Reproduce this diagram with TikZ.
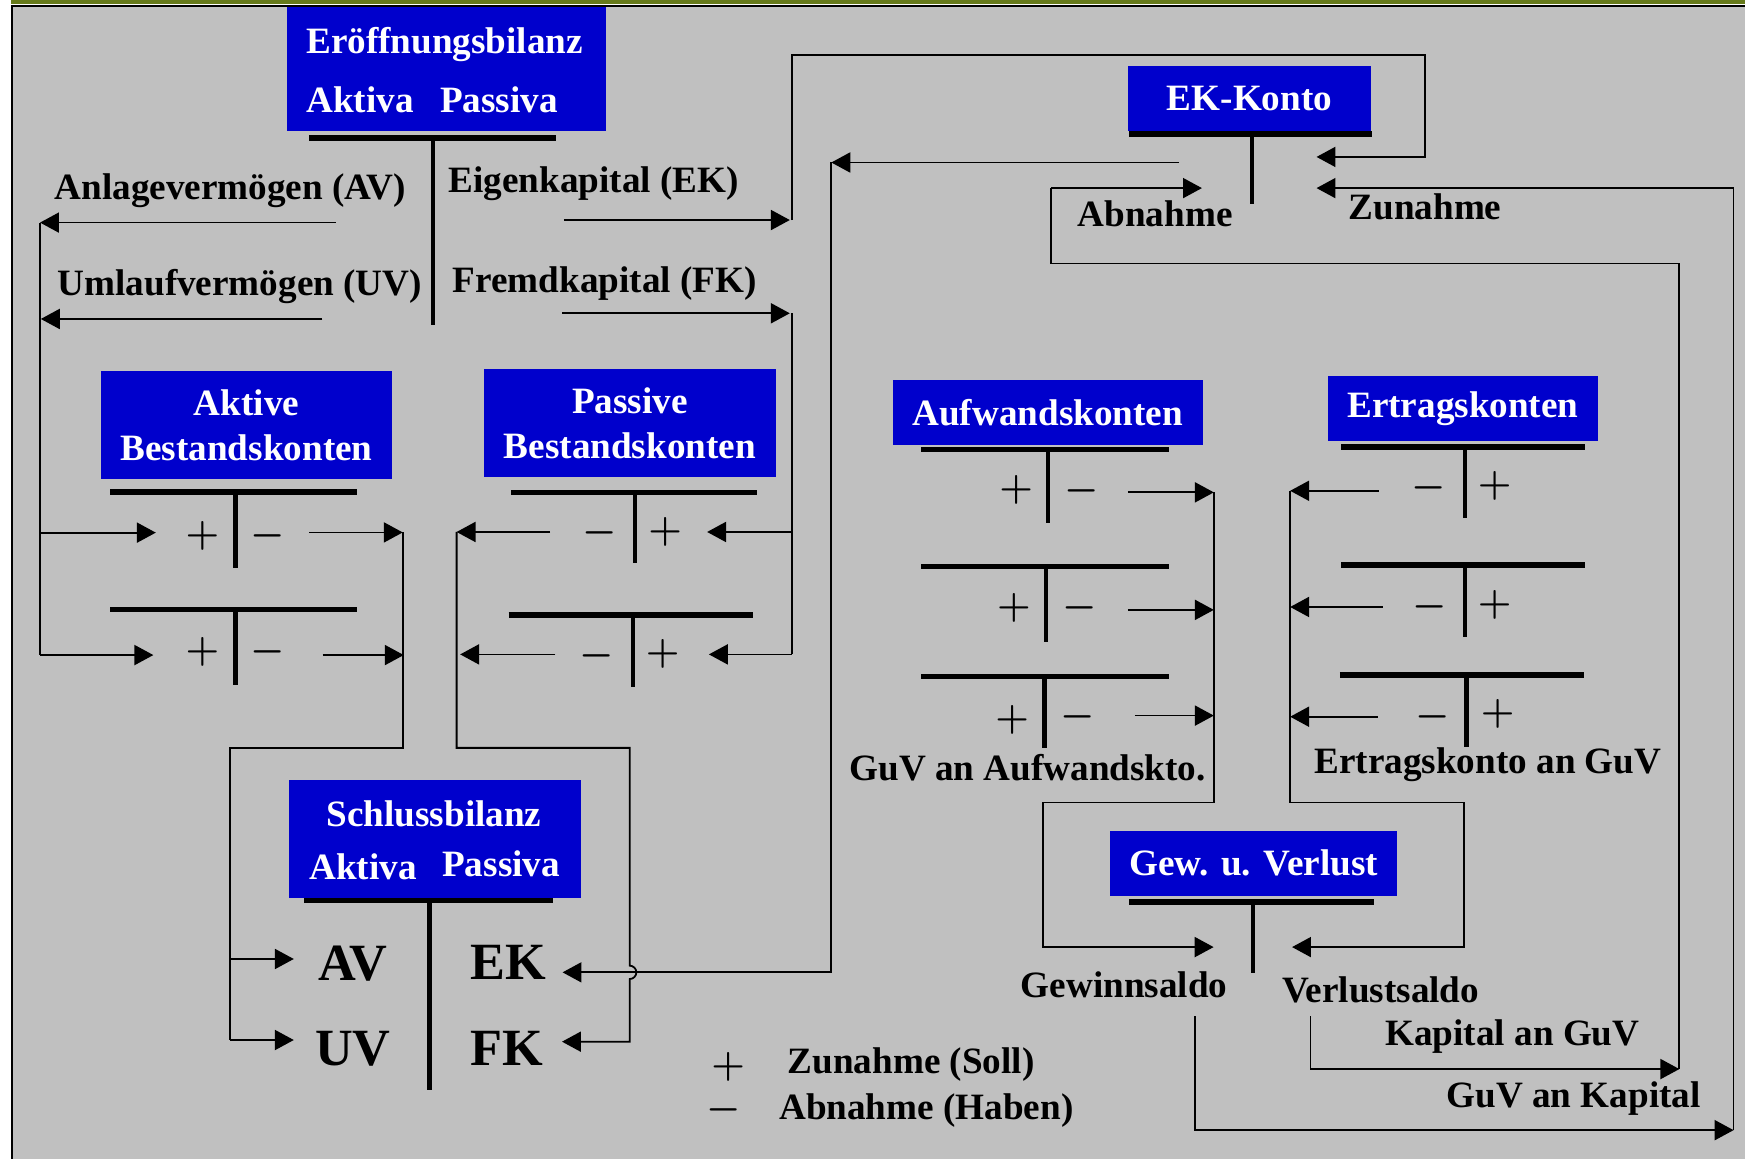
\documentclass[tikz,border=0pt]{standalone}
\usepackage{fontspec}
\setmainfont{Liberation Serif}
\usetikzlibrary{arrows.meta}

\definecolor{kblau}{RGB}{0,0,204}
\definecolor{hgrau}{RGB}{192,192,192}
\definecolor{oliv}{RGB}{102,122,26}

\tikzset{
  kasten/.style={fill=kblau, text=white, inner sep=0pt, align=center,
    font=\bfseries\fontsize{16.7}{20}\selectfont},
  beschr/.style={inner sep=0pt, font=\bfseries\fontsize{16.7}{20}\selectfont},
  weiss/.style={beschr, text=white},
  gross/.style={inner sep=0pt, font=\bfseries\fontsize{23.5}{26}\selectfont},
  zeichen/.style={inner sep=0pt, font=\boldmath\fontsize{16.5}{16.5}\selectfont},
  legzeichen/.style={inner sep=0pt, font=\boldmath\fontsize{16.5}{16.5}\selectfont},
  balken/.style={line width=2.4pt},
  stiel/.style={line width=2pt},
  linie/.style={line width=0.8pt},
  pfeil/.style={linie, -{Triangle[length=8.5pt,width=9pt]}}
}

\begin{document}
\begin{tikzpicture}[x=0.5pt, y=-0.5pt]
\useasboundingbox (0,0) rectangle (1568,1041);

% Hintergrund und Rahmen
\fill[white] (0,0) rectangle (1568,1041);
\fill[hgrau] (10,5) rectangle (1568,1041);
\fill[oliv] (10,0) rectangle (1568,3.6);
\draw[line width=1pt] (10.7,1041) -- (10.7,5.4) -- (1568,5.4);

% Eroeffnungsbilanz
\node[kasten, minimum width=143.5pt, minimum height=56pt] (eb) at (401,62) {};
\node[weiss] (ebtitel) at (399.5,40) {Eröffnungsbilanz};
\node[weiss, anchor=west] (ebakt) at (275,90) {Aktiva};
\node[weiss, anchor=west] (ebpas) at (395,90) {Passiva};
\draw[balken] (278,124) -- (500,124);
\draw[stiel] (389,124) -- (389,292);

\node[beschr] (av) at (207,171) {Anlagevermögen (AV)};
\node[beschr] (uv) at (215.5,257.5) {Umlaufvermögen (UV)};
\node[beschr] (ekl) at (533.5,165) {Eigenkapital (EK)};
\node[beschr] (fkl) at (543.5,255) {Fremdkapital (FK)};

% Aktive Bestandskonten
\node[kasten, minimum width=131pt, minimum height=48.7pt] (ab) at (221.6,382) {Aktive\\Bestandskonten};
\draw[balken] (99,442) -- (321,442);
\draw[stiel] (211.5,442) -- (211.5,510);
\node[zeichen] (ab1p) at (182,481.5) {$+$};
\node[zeichen] (ab1m) at (240.6,481.5) {$-$};
\draw[balken] (99,547.5) -- (321,547.5);
\draw[stiel] (211.5,547.5) -- (211.5,615.5);
\node[zeichen] (ab2p) at (182,585.5) {$+$};
\node[zeichen] (ab2m) at (240.6,585.5) {$-$};

% Passive Bestandskonten
\node[kasten, minimum width=131pt, minimum height=48.7pt] (pb) at (566,380.3) {Passive\\Bestandskonten};
\draw[balken] (459.6,442.4) -- (680,442.4);
\draw[stiel] (570.5,442.4) -- (570.5,506);
\node[zeichen] (pb1m) at (539,479) {$-$};
\node[zeichen] (pb1p) at (597.8,477.7) {$+$};
\draw[balken] (457,552.6) -- (676.7,552.6);
\draw[stiel] (568.6,552.6) -- (568.6,617);
\node[zeichen] (pb2m) at (536.6,589) {$-$};
\node[zeichen] (pb2p) at (595.4,587.7) {$+$};

% Schlussbilanz
\node[kasten, minimum width=131pt, minimum height=53pt] (sb) at (391,754) {};
\node[weiss] (sbtitel) at (390,731.4) {Schlussbilanz};
\node[weiss, anchor=west] (sbakt) at (277.5,778.8) {Aktiva};
\node[weiss, anchor=west] (sbpas) at (397,776.4) {Passiva};
\draw[balken] (273.4,809) -- (497,809);
\draw[stiel] (385.8,809) -- (385.8,979.4);
\node[gross] (sbav) at (317,866) {AV};
\node[gross] (sbuv) at (317,942) {UV};
\node[gross] (sbek) at (457,865) {EK};
\node[gross] (sbfk) at (455.5,941.7) {FK};

% EK-Konto
\node[kasten, minimum width=109.2pt, minimum height=29.35pt] (ek) at (1122.8,88.4) {EK-Konto};
\draw[balken] (1014.5,120.5) -- (1233,120.5);
\draw[stiel] (1125,120.5) -- (1125,183);
\node[beschr] (abn) at (1038,191.7) {Abnahme};
\node[beschr] (zun) at (1280.5,186) {Zunahme};

% Aufwandskonten
\node[kasten, minimum width=139.5pt, minimum height=29pt] (aw) at (941.5,370.5) {Aufwandskonten};
\draw[balken] (827.6,404) -- (1050,404);
\draw[stiel] (941.7,404) -- (941.7,470);
\node[zeichen] (aw1p) at (913,440) {$+$};
\node[zeichen] (aw1m) at (972,441) {$-$};
\draw[balken] (827.6,509) -- (1050,509);
\draw[stiel] (940,509) -- (940,576.6);
\node[zeichen] (aw2p) at (911,546.5) {$+$};
\node[zeichen] (aw2m) at (970.6,546.5) {$-$};
\draw[balken] (827.6,608) -- (1050,608);
\draw[stiel] (938.5,608) -- (938.5,672);
\node[zeichen] (aw3p) at (909.6,647) {$+$};
\node[zeichen] (aw3m) at (968.8,644) {$-$};
\node[beschr] (awguv) at (923.5,690) {GuV an Aufwandskto.};

% Ertragskonten
\node[kasten, minimum width=121.5pt, minimum height=29pt] (er) at (1314.5,367) {Ertragskonten};
\draw[balken] (1205,401.6) -- (1424,401.6);
\draw[stiel] (1316.5,401.6) -- (1316.5,465.5);
\node[zeichen] (er1m) at (1284,438.7) {$-$};
\node[zeichen] (er1p) at (1343,437) {$+$};
\draw[balken] (1205,507.7) -- (1424,507.7);
\draw[stiel] (1316.5,507.7) -- (1316.5,572);
\node[zeichen] (er2m) at (1285,545) {$-$};
\node[zeichen] (er2p) at (1343,543.6) {$+$};
\draw[line width=2.8pt] (1204,606.5) -- (1423,606.5);
\draw[line width=2.6pt] (1317.8,606.5) -- (1317.8,671);
\node[zeichen] (er3m) at (1287.4,644) {$-$};
\node[zeichen] (er3p) at (1345.8,641.6) {$+$};
\node[beschr] (erguv) at (1337,687) {Ertragskonto an GuV};

% Gewinn und Verlust
\node[kasten, minimum width=129pt, minimum height=29pt] (gv) at (1126.5,775.7) {Gew. u. Verlust};
\draw[balken] (1014.6,810.5) -- (1234.6,810.5);
\draw[stiel] (1126,810.5) -- (1126,874.5);
\node[beschr] (gew) at (1010,885) {Gewinnsaldo};
\node[beschr] (verl) at (1240.7,889.3) {Verlustsaldo};
\node[beschr] (kag) at (1359,931.5) {Kapital an GuV};
\node[beschr] (gak) at (1414,987.5) {GuV an Kapital};

% Legende
\node[legzeichen] (lgp) at (654.4,959) {$+$};
\node[legzeichen] (lgm) at (650.6,997.4) {$-$};
\node[beschr] (lgz) at (818.7,957) {Zunahme (Soll)};
\node[beschr] (lga) at (832.4,998) {Abnahme (Haben)};

% Verbindungen: Eroeffnungsbilanz zu aktiven Konten
\coordinate (lo) at (36,200);
\coordinate (lu) at (36,588.6);
\draw[pfeil] (301.7,200) -- (lo);
\draw[pfeil] (289.7,286.6) -- (36.7,286.6);
\draw[linie] (lo) -- (lu);
\draw[pfeil] (36,478.6) -- (140,478.6);
\draw[pfeil] (lu) -- (137.8,588.6);

% aktive Konten zur Schlussbilanz
\coordinate (ar) at (361.9,478.4);
\coordinate (al) at (206.5,934.5);
\draw[pfeil] (278,478.4) -- (ar);
\draw[pfeil] (290,588.6) -- (362.8,588.6);
\draw[linie] (ar) -- (361.9,672) -- (206.5,672) -- (al);
\draw[pfeil] (206.5,861.7) -- (264,861.7);
\draw[pfeil] (al) -- (264,934.5);

% Eigenkapital zum EK-Konto
\coordinate (eo) at (711.5,197.7);
\draw[pfeil] (506.6,197.7) -- (709.7,197.7);
\draw[pfeil] (eo) -- (711.5,49.6) -- (1280.6,49.6) -- (1280.6,141) -- (1183,141);

% Fremdkapital zu passiven Konten
\coordinate (fo) at (711.5,281.5);
\coordinate (fu) at (711.5,588);
\draw[pfeil] (505,281.5) -- (709.7,281.5);
\draw[linie] (fo) -- (fu);
\draw[pfeil] (711.5,478) -- (635.4,478);
\draw[pfeil] (fu) -- (637,588);

% passive Konten zur Schlussbilanz
\coordinate (pl) at (410.3,478);
\draw[pfeil] (494.3,478) -- (pl);
\draw[pfeil] (499,588) -- (413.5,588);
\draw[pfeil] (pl) -- (410.3,672) -- (565.8,672) -- (565.8,867.7)
  arc[start angle=90, end angle=-90, radius=3pt] -- (565.8,936) -- (505,936);

% EK-Konto zur Schlussbilanz
\coordinate (ke) at (747,146);
\draw[pfeil] (1059.5,146) -- (ke);
\draw[pfeil] (ke) -- (747,873.7) -- (505.5,873.7);

% Aufwandskonten zur GuV
\coordinate (wr) at (1090.7,442.4);
\draw[pfeil] (1013.5,442.4) -- (wr);
\draw[pfeil] (1013.5,548) -- (1090.7,548);
\draw[pfeil] (1019.7,643) -- (1090.7,643);
\draw[pfeil] (wr) -- (1090.7,721) -- (937.5,721) -- (937.5,851) -- (1090.5,851);

% Ertragskonten zur GuV
\coordinate (rl) at (1159.3,441);
\draw[pfeil] (1239,441) -- (rl);
\draw[pfeil] (1242.7,545.4) -- (1159.3,545.4);
\draw[pfeil] (1237.8,644) -- (1159.3,644);
\draw[pfeil] (rl) -- (1159.3,721) -- (1315.6,721) -- (1315.6,851) -- (1161,851);

% Salden zum EK-Konto
\coordinate (vs) at (1509,960.6);
\coordinate (gs) at (1557.7,1015.5);
\draw[pfeil] (1177.6,913) -- (1177.6,960.6) -- (vs);
\draw[linie] (vs) -- (1509,236.7) -- (944.6,236.7) -- (944.6,169);
\draw[pfeil] (944.6,169) -- (1080,169);
\draw[pfeil] (1074,913) -- (1074,1015.5) -- (gs);
\draw[pfeil] (gs) -- (1557.7,169) -- (1183,169);
\end{tikzpicture}
\end{document}
